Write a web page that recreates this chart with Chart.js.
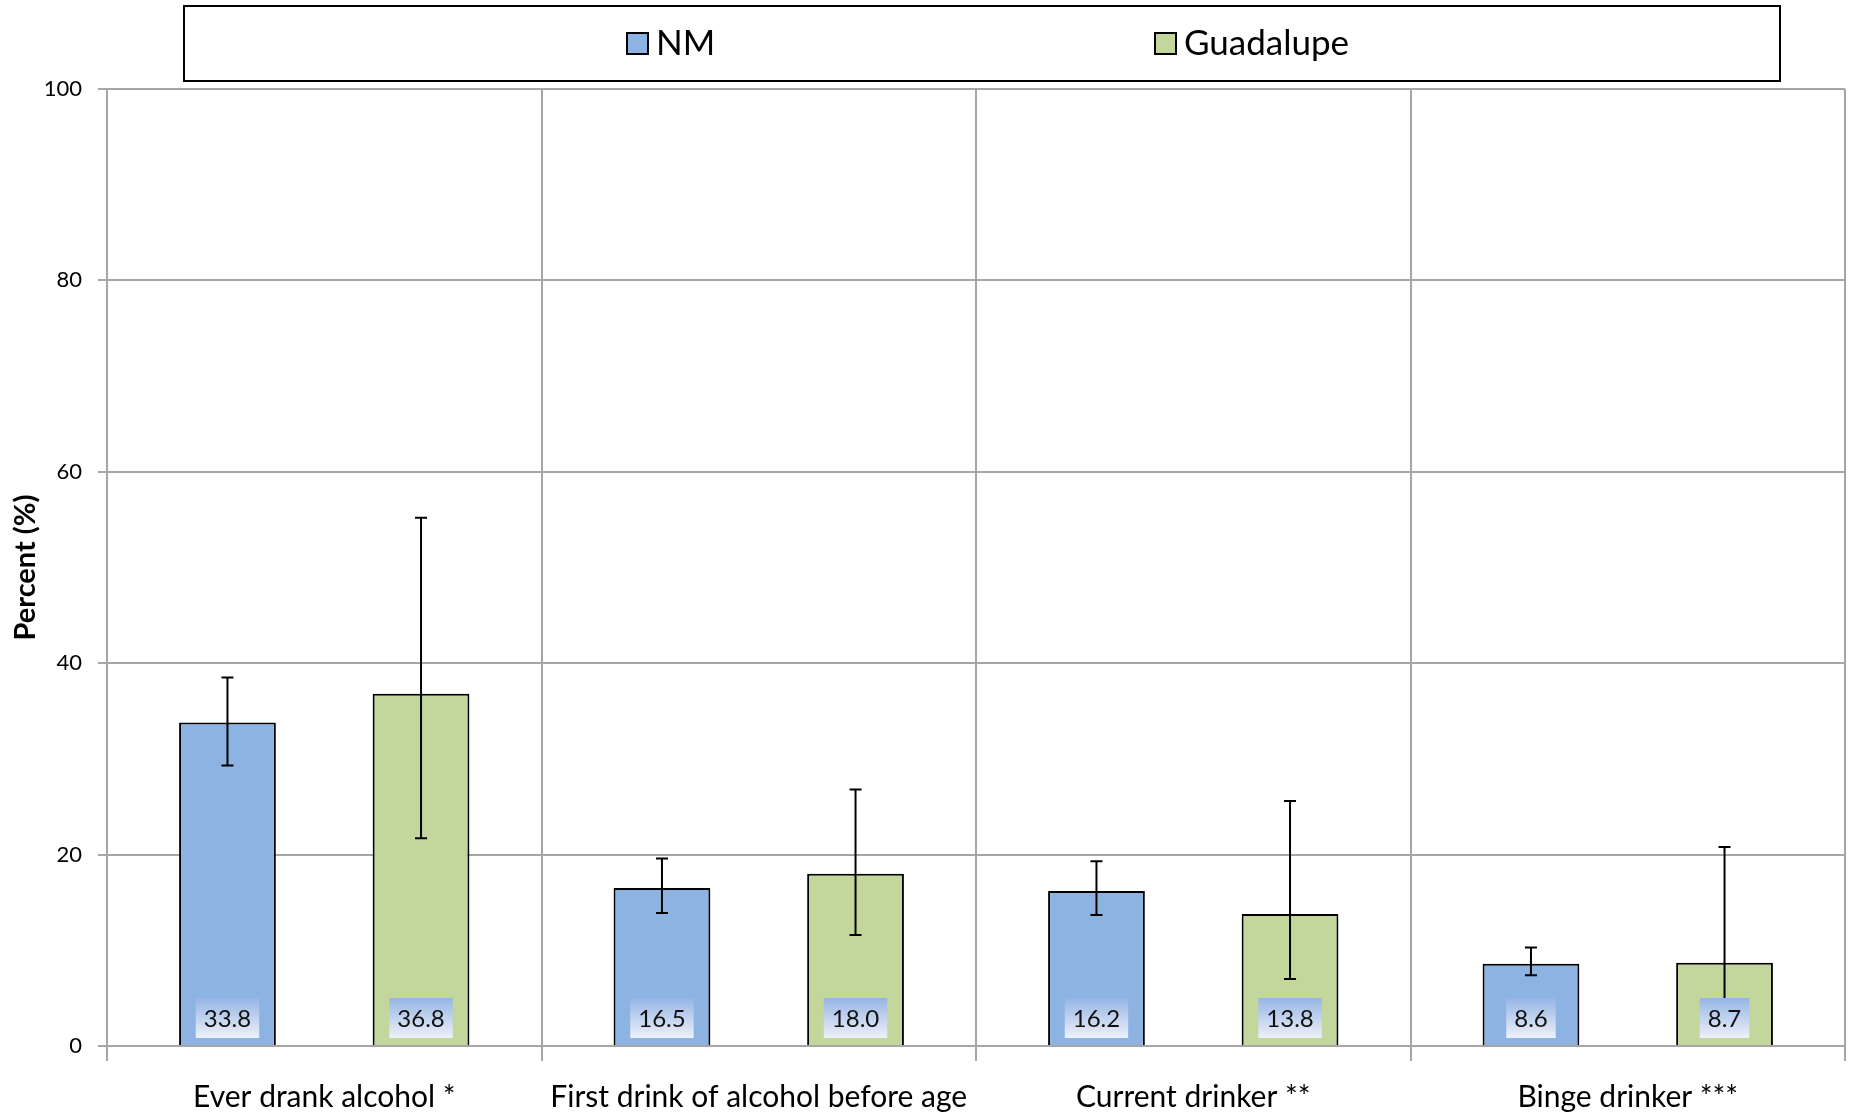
<!DOCTYPE html>
<html>
<head>
<meta charset="utf-8">
<script src="https://cdn.jsdelivr.net/npm/chart.js@4"></script>
<style>
  html, body { margin: 0; padding: 0; background: #fff; }
  #wrap { width: 1851px; height: 1115px; position: relative; }
</style>
</head>
<body>
<div id="wrap"><canvas id="alcoholChart"></canvas></div>
<script>
const categories = ['Ever drank alcohol *', 'First drink of alcohol before age', 'Current drinker **', 'Binge drinker ***'];
const nmValues = [33.8, 16.5, 16.2, 8.6];
const guadValues = [36.8, 18.0, 13.8, 8.7];
const nmLow = [29.3, 13.9, 13.7, 7.4];
const nmHigh = [38.5, 19.6, 19.3, 10.3];
const guadLow = [21.7, 11.6, 7.0, 2.5];
const guadHigh = [55.2, 26.8, 25.6, 20.8];
const yTicks = [0, 20, 40, 60, 80, 100];

const FONT = 'Lato, "Open Sans", sans-serif';
const GRID = '#A6A6A6';

// error bars, then value boxes on top of them
const errorBars = {
    id: 'errorBars',
    afterDatasetsDraw(chart) {
        const ctx = chart.ctx;
        const y = chart.scales.y;
        const ranges = [[nmLow, nmHigh], [guadLow, guadHigh]];
        ctx.save();
        ctx.strokeStyle = '#000';
        ctx.lineWidth = 2;
        chart.data.datasets.forEach((ds, di) => {
            chart.getDatasetMeta(di).data.forEach((bar, i) => {
                const lo = y.getPixelForValue(ranges[di][0][i]);
                const hi = y.getPixelForValue(ranges[di][1][i]);
                ctx.beginPath();
                ctx.moveTo(bar.x, lo); ctx.lineTo(bar.x, hi);
                ctx.moveTo(bar.x - 6, lo); ctx.lineTo(bar.x + 6, lo);
                ctx.moveTo(bar.x - 6, hi); ctx.lineTo(bar.x + 6, hi);
                ctx.stroke();
            });
        });

        ctx.font = '24px ' + FONT;
        ctx.textAlign = 'center';
        ctx.textBaseline = 'middle';
        const base = y.getPixelForValue(0);
        chart.data.datasets.forEach((ds, di) => {
            chart.getDatasetMeta(di).data.forEach((bar, i) => {
                const txt = ds.data[i].toFixed(1);
                const w = ctx.measureText(txt).width + 16;
                const top = base - 48, h = 40;
                const g = ctx.createLinearGradient(0, top, 0, top + h);
                g.addColorStop(0, '#95B5E4');
                g.addColorStop(1, '#EDF1F9');
                ctx.fillStyle = g;
                ctx.fillRect(bar.x - w / 2, top, w, h);
                ctx.fillStyle = '#111';
                ctx.fillText(txt, bar.x, top + h / 2 + 1);
            });
        });
        ctx.restore();
    }
};

// boxed legend at the top
const boxLegend = {
    id: 'boxLegend',
    afterDraw(chart) {
        const ctx = chart.ctx;
        ctx.save();
        ctx.strokeStyle = '#000';
        ctx.lineWidth = 2;
        ctx.strokeRect(184, 6, 1596, 75);
        ctx.font = '35px ' + FONT;
        ctx.textBaseline = 'middle';
        ctx.textAlign = 'left';
        const xs = [627, 1155];
        chart.data.datasets.forEach((ds, i) => {
            ctx.fillStyle = ds.backgroundColor;
            ctx.fillRect(xs[i], 33, 21, 21);
            ctx.strokeStyle = '#000';
            ctx.lineWidth = 2;
            ctx.strokeRect(xs[i], 33, 21, 21);
            ctx.fillStyle = '#000';
            ctx.fillText(ds.label, xs[i] + 29, 44);
        });
        ctx.restore();
    }
};

new Chart(document.getElementById('alcoholChart'), {
    type: 'bar',
    data: {
        labels: categories,
        datasets: [
            { label: 'NM', data: nmValues, backgroundColor: '#8DB3E2', borderColor: '#000', borderWidth: 2 },
            { label: 'Guadalupe', data: guadValues, backgroundColor: '#C3D69B', borderColor: '#000', borderWidth: 2 }
        ]
    },
    options: {
        responsive: true,
        maintainAspectRatio: false,
        animation: false,
        layout: { padding: { top: 89, right: 6, left: 0, bottom: 0 } },
        datasets: { bar: { categoryPercentage: 0.891, barPercentage: 0.5 } },
        plugins: { legend: { display: false }, tooltip: { enabled: false } },
        scales: {
            x: {
                grid: { color: GRID, lineWidth: 2, offset: true, tickLength: 15 },
                border: { color: GRID, width: 2 },
                ticks: { color: '#000', font: { family: FONT, size: 30 }, padding: 18, maxRotation: 0, autoSkip: false },
                afterFit(scale) { scale.height = 69; }
            },
            y: {
                min: 0,
                max: 100,
                afterBuildTicks(scale) { scale.ticks = yTicks.map(v => ({ value: v })); },
                grid: { color: GRID, lineWidth: 2, tickLength: 9 },
                border: { color: GRID, width: 2 },
                ticks: { color: '#000', font: { family: FONT, size: 22 }, padding: 16 },
                title: { display: true, text: 'Percent (%)', color: '#000', font: { family: FONT, size: 29, weight: 'bold' }, padding: { top: 8, bottom: 0 } },
                afterFit(scale) { scale.width = 107; }
            }
        }
    },
    plugins: [errorBars, boxLegend]
});
</script>
</body>
</html>
